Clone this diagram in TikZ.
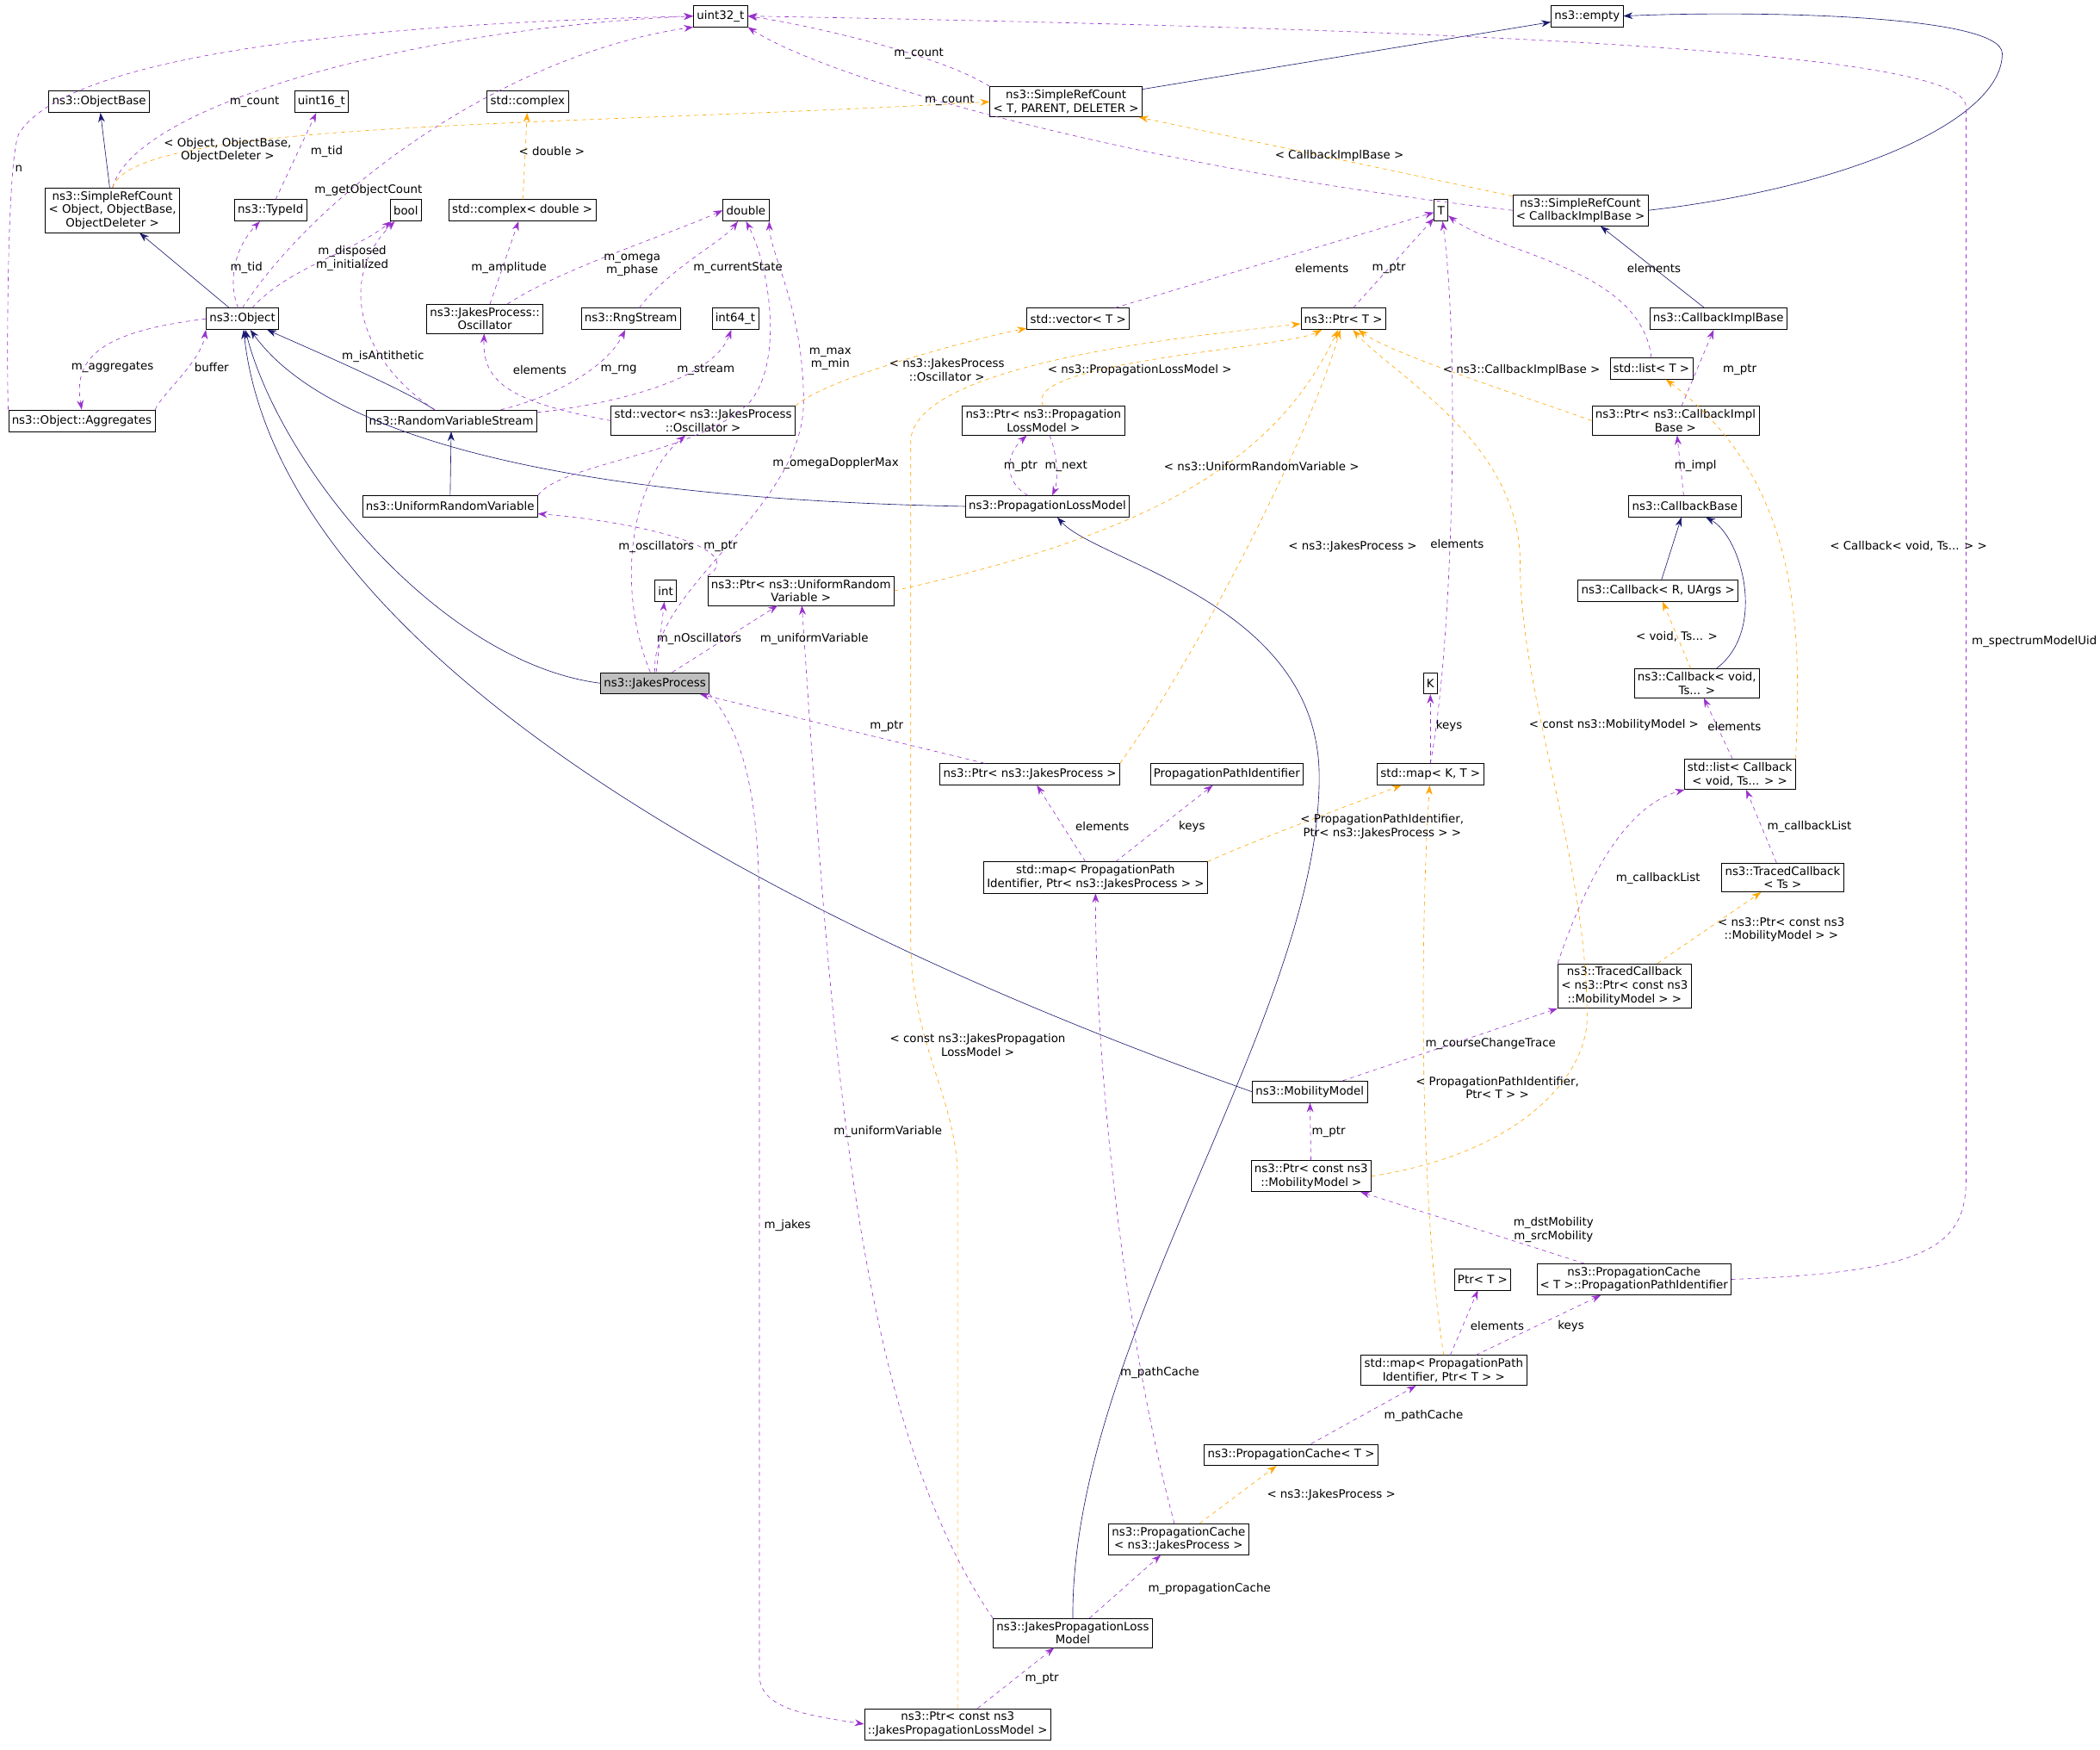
\documentclass[tikz,border=0pt]{standalone}
\usepackage{fontspec}
\setmainfont{DejaVu Sans}
\usetikzlibrary{arrows.meta}
\definecolor{inhcol}{RGB}{25,25,112}
\definecolor{usecol}{RGB}{153,50,204}
\definecolor{tplcol}{RGB}{255,165,0}
\begin{document}
\begin{tikzpicture}[x=1pt, y=-1pt,
    every node/.style={font=\fontsize{8.6}{10}\selectfont},
    cls/.style={draw=black, fill=white, inner sep=2.5pt, minimum height=16pt, align=center},
    lbl/.style={inner sep=0pt, align=center},
    inh/.style={draw=inhcol, -{Stealth[length=7pt,width=5pt]}},
    use/.style={draw=usecol, dashed, -{Stealth[length=7pt,width=5pt]}},
    tpl/.style={draw=tplcol, dashed, -{Stealth[length=7pt,width=5pt]}}]
    \useasboundingbox (0,0) rectangle (1568,1306);

    % classes
    \node[cls] (u32)    at (538,12)   {uint32\_t};
    \node[cls] (empty)  at (1185,12)  {ns3::empty};
    \node[cls] (objBase) at (74,76)   {ns3::ObjectBase};
    \node[cls] (u16)    at (240,76)   {uint16\_t};
    \node[cls] (cplx)   at (394,76)   {std::complex};
    \node[cls] (srcT)   at (796,76)   {ns3::SimpleRefCount\\< T, PARENT, DELETER >};
    \node[cls] (srcObj) at (84,157)   {ns3::SimpleRefCount\\< Object, ObjectBase,\\ObjectDeleter >};
    \node[cls] (tid)    at (202,157)  {ns3::TypeId};
    \node[cls] (bool)   at (303,157)  {bool};
    \node[cls] (cplxD)  at (390,157)  {std::complex< double >};
    \node[cls] (dbl)    at (557,157)  {double};
    \node[cls] (T)      at (1076,157) {T};
    \node[cls] (srcCIB) at (1180,157) {ns3::SimpleRefCount\\< CallbackImplBase >};
    \node[cls] (obj)    at (181,238)  {ns3::Object};
    \node[cls] (osc)    at (362,238)  {ns3::JakesProcess::\\Oscillator};
    \node[cls] (rng)    at (471,238)  {ns3::RngStream};
    \node[cls] (i64)    at (549,238)  {int64\_t};
    \node[cls] (vecT)   at (805,238)  {std::vector< T >};
    \node[cls] (pT)     at (1003,238) {ns3::Ptr< T >};
    \node[cls] (cib)    at (1283,238) {ns3::CallbackImplBase};
    \node[cls] (listT)  at (1233,275) {std::list< T >};
    \node[cls] (agg)    at (61,314)   {ns3::Object::Aggregates};
    \node[cls] (rvs)    at (337,314)  {ns3::RandomVariableStream};
    \node[cls] (vecOsc) at (525,314)  {std::vector< ns3::JakesProcess\\::Oscillator >};
    \node[cls] (pPLM)   at (779,314)  {ns3::Ptr< ns3::Propagation\\LossModel >};
    \node[cls] (pCIB)   at (1251,314) {ns3::Ptr< ns3::CallbackImpl\\Base >};
    \node[cls] (urv)    at (336,378)  {ns3::UniformRandomVariable};
    \node[cls] (plm)    at (782,378)  {ns3::PropagationLossModel};
    \node[cls] (cbBase) at (1258,378) {ns3::CallbackBase};
    \node[cls] (pURV)   at (598,441)  {ns3::Ptr< ns3::UniformRandom\\Variable >};
    \node[cls] (int)    at (497,441)  {int};
    \node[cls] (cbRU)   at (1238,441) {ns3::Callback< R, UArgs >};
    \node[cls, fill=black!25] (jp) at (489,510) {ns3::JakesProcess};
    \node[cls] (cbVoid) at (1267,510) {ns3::Callback< void,\\Ts... >};
    \node[cls] (K)      at (1068,510) {K};
    \node[cls] (pJP)    at (769,578)  {ns3::Ptr< ns3::JakesProcess >};
    \node[cls] (ppi)    at (916,578)  {PropagationPathIdentifier};
    \node[cls] (mapKT)  at (1068,578) {std::map< K, T >};
    \node[cls] (listCB) at (1299,578) {std::list< Callback\\< void, Ts... > >};
    \node[cls] (mapJP)  at (818,655)  {std::map< PropagationPath\\Identifier, Ptr< ns3::JakesProcess > >};
    \node[cls] (tcTs)   at (1331,655) {ns3::TracedCallback\\< Ts >};
    \node[cls] (tcMM)   at (1213,736) {ns3::TracedCallback\\< ns3::Ptr< const ns3\\::MobilityModel > >};
    \node[cls] (mm)     at (978,815)  {ns3::MobilityModel};
    \node[cls] (pMM)    at (979,878)  {ns3::Ptr< const ns3\\::MobilityModel >};
    \node[cls] (pcPPI)  at (1220,955) {ns3::PropagationCache\\< T >::PropagationPathIdentifier};
    \node[cls] (ptrT)   at (1107,955) {Ptr< T >};
    \node[cls] (mapT)   at (1078,1023) {std::map< PropagationPath\\Identifier, Ptr< T > >};
    \node[cls] (pcT)    at (964,1086) {ns3::PropagationCache< T >};
    \node[cls] (pcJP)   at (880,1149) {ns3::PropagationCache\\< ns3::JakesProcess >};
    \node[cls] (jplm)   at (801,1219) {ns3::JakesPropagationLoss\\Model};
    \node[cls] (pJPLM)  at (715,1287) {ns3::Ptr< const ns3\\::JakesPropagationLossModel >};

    % inheritance
    \draw[inh] (srcT) -- (empty);
    \draw[inh] (srcCIB.east) .. controls (1380,140) and (1495,90) .. (1495,40)
                              .. controls (1495,10) and (1300,8) .. (empty.east);
    \draw[inh] (srcObj) -- (objBase);
    \draw[inh] (obj) -- (srcObj);
    \draw[inh] (rvs) .. controls (300,290) and (235,262) .. (obj);
    \draw[inh] (urv) -- (rvs);
    \draw[inh] (plm.west) .. controls (400,372) and (240,320) .. (obj);
    \draw[inh] (jp.west) .. controls (330,495) and (210,350) .. (obj);
    \draw[inh] (mm.west) .. controls (500,660) and (205,460) .. (obj);
    \draw[inh] (jplm.north) .. controls (800,1000) and (985,760) .. (985,580)
                            .. controls (985,450) and (820,420) .. (plm);
    \draw[inh] (cib) -- (srcCIB);
    \draw[inh] (cbRU) -- (cbBase);
    \draw[inh] (cbVoid) .. controls (1320,470) and (1300,400) .. (cbBase);

    % members
    \draw[use] (srcT.north west) .. controls (700,40) and (600,18) .. (u32.east);
    \draw[use] (srcObj.north) .. controls (100,80) and (300,22) .. (u32.west);
    \draw[use] (srcCIB.west) .. controls (850,125) and (620,60) .. (u32.south east);
    \draw[use] (tid) -- (u16);
    \draw[use] (obj) .. controls (170,210) and (175,185) .. (tid);
    \draw[use] (obj.north) .. controls (240,140) and (380,40) .. (u32.south west);
    \draw[use] (obj) .. controls (215,200) and (260,190) .. (bool);
    \draw[use] (obj.west) .. controls (70,248) and (55,270) .. (agg.north);
    \draw[use] (agg.north east) .. controls (120,295) and (150,270) .. (obj.south west);
    \draw[use] (agg.north west) .. controls (5,280) and (5,120) .. (14,100)
                                .. controls (60,25) and (400,15) .. (u32.west);
    \draw[use] (osc) -- (cplxD);
    \draw[use] (osc) .. controls (420,200) and (500,175) .. (dbl.west);
    \draw[use] (rng) .. controls (500,200) and (540,180) .. (dbl);
    \draw[use] (rvs) .. controls (270,270) and (250,210) .. (bool);
    \draw[use] (vecOsc.west) .. controls (380,300) and (360,285) .. (osc);
    \draw[use] (rvs) .. controls (400,300) and (450,280) .. (rng);
    \draw[use] (rvs) .. controls (430,305) and (530,290) .. (i64);
    \draw[use] (urv.north east) .. controls (420,345) and (520,340) .. (560,300)
                                .. controls (585,270) and (575,200) .. (dbl.south);
    \draw[use] (vecT) -- (T);
    \draw[use] (pT) -- (T);
    \draw[use] (listT.north) .. controls (1225,200) and (1120,190) .. (T);
    \draw[use] (pCIB) -- (cib);
    \draw[use] (plm) .. controls (750,360) and (750,340) .. (pPLM);
    \draw[use] (pPLM) .. controls (790,340) and (790,360) .. (plm);
    \draw[use] (cbBase) -- (pCIB);
    \draw[use] (pURV.north west) .. controls (560,410) and (480,390) .. (urv);
    \draw[use] (jp) .. controls (460,440) and (470,360) .. (vecOsc);
    \draw[use] (jp.north) .. controls (485,440) and (600,380) .. (600,300)
                          .. controls (600,230) and (575,190) .. (dbl.south east);
    \draw[use] (jp) -- (int);
    \draw[use] (jp) -- (pURV);
    \draw[use] (pJP) -- (jp);
    \draw[use] (mapKT) -- (K);
    \draw[use] (mapKT.north) .. controls (1085,480) and (1090,260) .. (T);
    \draw[use] (listCB) -- (cbVoid);
    \draw[use] (tcTs) -- (listCB);
    \draw[use] (tcMM.north west) .. controls (1190,640) and (1220,600) .. (listCB);
    \draw[use] (mapJP) -- (pJP);
    \draw[use] (mapJP) -- (ppi);
    \draw[use] (mm) -- (tcMM);
    \draw[use] (pMM) -- (mm);
    \draw[use] (pcPPI) -- (pMM);
    \draw[use] (pcPPI.east) .. controls (1440,950) and (1468,930) .. (1468,880)
                            -- (1468,80) .. controls (1468,50) and (1300,25) .. (u32.east);
    \draw[use] (mapT) -- (ptrT);
    \draw[use] (mapT) -- (pcPPI);
    \draw[use] (pcT) -- (mapT);
    \draw[use] (pcJP) .. controls (840,1000) and (818,800) .. (mapJP);
    \draw[use] (jplm) -- (pcJP);
    \draw[use] (jplm.north west) .. controls (640,1060) and (622,800) .. (pURV);
    \draw[use] (pJPLM) -- (jplm);
    \draw[use] (jp.south east) .. controls (567,560) and (567,640) .. (567,700)
                               -- (567,1250) .. controls (567,1275) and (600,1280) .. (pJPLM.west);

    % template instances
    \draw[tpl] (srcObj.north) .. controls (100,90) and (400,95) .. (srcT.west);
    \draw[tpl] (cplxD) -- (cplx);
    \draw[tpl] (srcCIB) -- (srcT);
    \draw[tpl] (vecOsc.north east) .. controls (620,280) and (740,250) .. (vecT);
    \draw[tpl] (pPLM.north) .. controls (760,270) and (960,260) .. (pT);
    \draw[tpl] (pCIB.west) .. controls (1150,300) and (1040,265) .. (pT);
    \draw[tpl] (pURV.east) .. controls (850,400) and (950,350) .. (pT);
    \draw[tpl] (pJP.north east) .. controls (900,480) and (980,320) .. (pT);
    \draw[tpl] (pMM.east) .. controls (1140,860) and (1185,800) .. (1185,760)
                          .. controls (1185,640) and (1135,520) .. (1135,420)
                          .. controls (1135,330) and (1040,280) .. (pT);
    \draw[tpl] (pJPLM.north) -- (715,880) .. controls (715,820) and (680,780) .. (680,700)
                             -- (680,330) .. controls (680,270) and (900,250) .. (pT);
    \draw[tpl] (listCB.north east) .. controls (1345,470) and (1345,360) .. (listT);
    \draw[tpl] (cbVoid) -- (cbRU);
    \draw[tpl] (tcMM) -- (tcTs);
    \draw[tpl] (mapJP.north east) .. controls (930,630) and (1010,600) .. (mapKT);
    \draw[tpl] (mapT.north) .. controls (1060,900) and (1060,700) .. (mapKT);
    \draw[tpl] (pcJP) -- (pcT);

    % labels
    \node[lbl] (l1)  at (686,40)   {m\_count};
    \node[lbl] (l2)  at (190,76)   {m\_count};
    \node[lbl] (l3)  at (709,75)   {m\_count};
    \node[lbl] (l4)  at (244,113)  {m\_tid};
    \node[lbl] (l5)  at (184,200)  {m\_tid};
    \node[lbl] (l6)  at (275,142)  {m\_getObjectCount};
    \node[lbl] (l7)  at (263,193)  {m\_disposed\\m\_initialized};
    \node[lbl] (l8)  at (84,274)   {m\_aggregates};
    \node[lbl] (l9)  at (158,274)  {buffer};
    \node[lbl] (l10) at (14,126)   {n};
    \node[lbl] (l11) at (380,200)  {m\_amplitude};
    \node[lbl] (l12) at (472,198)  {m\_omega\\m\_phase};
    \node[lbl] (l13) at (551,200)  {m\_currentState};
    \node[lbl] (l14) at (286,266)  {m\_isAntithetic};
    \node[lbl] (l15) at (403,276)  {elements};
    \node[lbl] (l16) at (462,276)  {m\_rng};
    \node[lbl] (l17) at (527,276)  {m\_stream};
    \node[lbl] (l18) at (620,268)  {m\_max\\m\_min};
    \node[lbl] (l19) at (987,200)  {elements};
    \node[lbl] (l20) at (1037,200) {m\_ptr};
    \node[lbl] (l21) at (1235,200) {elements};
    \node[lbl] (l22) at (1299,276) {m\_ptr};
    \node[lbl] (l23) at (762,348)  {m\_ptr};
    \node[lbl] (l24) at (796,348)  {m\_next};
    \node[lbl] (l25) at (1266,348) {m\_impl};
    \node[lbl] (l26) at (170,112)  {< Object, ObjectBase,\\ObjectDeleter >};
    \node[lbl] (l27) at (412,113)  {< double >};
    \node[lbl] (l28) at (1000,116) {< CallbackImplBase >};
    \node[lbl] (l29) at (707,276)  {< ns3::JakesProcess\\::Oscillator >};
    \node[lbl] (l30) at (851,276)  {< ns3::PropagationLossModel >};
    \node[lbl] (l31) at (1136,276) {< ns3::CallbackImplBase >};
    \node[lbl] (l32) at (942,348)  {< ns3::UniformRandomVariable >};
    \node[lbl] (l33) at (1088,406) {elements};
    \node[lbl] (l34) at (1425,408) {< Callback< void, Ts... > >};
    \node[lbl] (l35) at (1010,408) {< ns3::JakesProcess >};
    \node[lbl] (l36) at (490,408)  {m\_oscillators};
    \node[lbl] (l37) at (538,408)  {m\_ptr};
    \node[lbl] (l38) at (624,346)  {m\_omegaDopplerMax};
    \node[lbl] (l39) at (522,477)  {m\_nOscillators};
    \node[lbl] (l40) at (608,477)  {m\_uniformVariable};
    \node[lbl] (l41) at (1252,475) {< void, Ts... >};
    \node[lbl] (l42) at (1205,541) {< const ns3::MobilityModel >};
    \node[lbl] (l43) at (662,542)  {m\_ptr};
    \node[lbl] (l44) at (1082,542) {keys};
    \node[lbl] (l45) at (1295,542) {elements};
    \node[lbl] (l46) at (823,617)  {elements};
    \node[lbl] (l47) at (890,617)  {keys};
    \node[lbl] (l48) at (1032,617) {< PropagationPathIdentifier,\\Ptr< ns3::JakesProcess > >};
    \node[lbl] (l49) at (1351,617) {m\_callbackList};
    \node[lbl] (l50) at (1238,656) {m\_callbackList};
    \node[lbl] (l51) at (1330,694) {< ns3::Ptr< const ns3\\::MobilityModel > >};
    \node[lbl] (l52) at (730,780)  {< const ns3::JakesPropagation\\LossModel >};
    \node[lbl] (l53) at (1113,779) {m\_courseChangeTrace};
    \node[lbl] (l54) at (1118,812) {< PropagationPathIdentifier,\\Ptr< T > >};
    \node[lbl] (l55) at (663,845)  {m\_uniformVariable};
    \node[lbl] (l56) at (992,845)  {m\_ptr};
    \node[lbl] (l57) at (1519,479) {m\_spectrumModelUid};
    \node[lbl] (l58) at (588,915)  {m\_jakes};
    \node[lbl] (l59) at (866,1025) {m\_pathCache};
    \node[lbl] (l60) at (1160,918) {m\_dstMobility\\m\_srcMobility};
    \node[lbl] (l61) at (1118,990) {elements};
    \node[lbl] (l62) at (1173,990) {keys};
    \node[lbl] (l63) at (1063,1057) {m\_pathCache};
    \node[lbl] (l64) at (994,1116) {< ns3::JakesProcess >};
    \node[lbl] (l65) at (903,1186) {m\_propagationCache};
    \node[lbl] (l66) at (778,1253) {m\_ptr};
\end{tikzpicture}
\end{document}
